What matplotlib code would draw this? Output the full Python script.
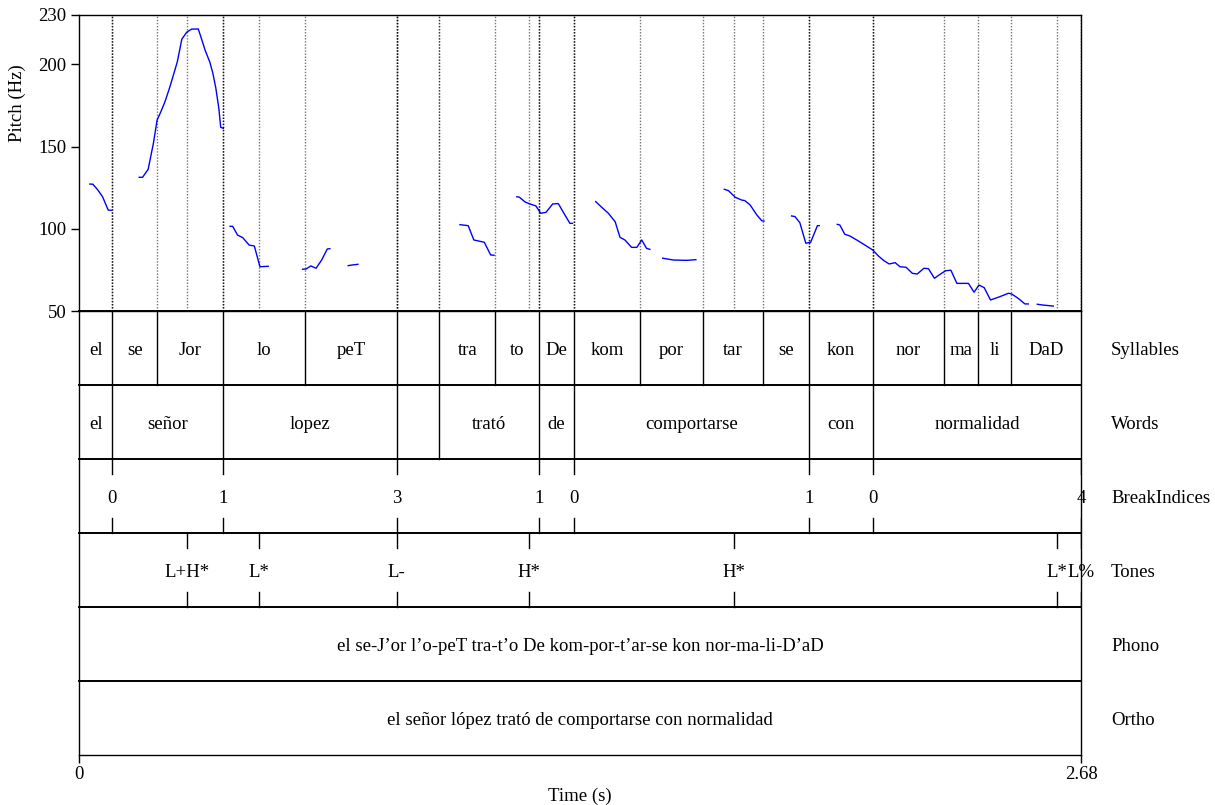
import matplotlib.pyplot as plt

plt.rcParams["font.family"] = ["Liberation Serif", "DejaVu Serif"]
FS = 13.5

duration = 2.68

# Interval tiers: boundaries (s) between consecutive labels
syll_bounds = [0.0891, 0.2086, 0.3860, 0.6045, 0.8497, 0.9637, 1.1135, 1.2295,
               1.3248, 1.5016, 1.6677, 1.8300, 1.9525, 2.1234, 2.3133, 2.4032, 2.4939]
syll_labels = ["el", "se", "Jor", "lo", "peT", "", "tra", "to", "De", "kom", "por",
               "tar", "se", "kon", "nor", "ma", "li", "DaD"]

word_bounds = [0.0891, 0.3860, 0.8497, 0.9637, 1.2295, 1.3248, 1.9525, 2.1234]
word_labels = ["el", "señor", "lopez", "", "trató", "de", "comportarse", "con", "normalidad"]

# Point tiers
break_times = [0.0891, 0.3860, 0.8497, 1.2295, 1.3248, 1.9525, 2.1234, 2.68]
break_labels = ["0", "1", "3", "1", "0", "1", "0", "4"]

tone_times = [0.2889, 0.4823, 0.8497, 1.2027, 1.7527, 2.6162, 2.68]
tone_labels = ["L+H*", "L*", "L-", "H*", "H*", "L*", "L%"]

phono_text = "el se-J’or l’o-peT tra-t’o De kom-por-t’ar-se kon nor-ma-li-D’aD"
ortho_text = "el señor lópez trató de comportarse con normalidad"

tier_names = ["Syllables", "Words", "BreakIndices", "Tones", "Phono", "Ortho"]

# Voiced stretches of the pitch track: (time s, F0 Hz)
pitch_segments = [
    ([0.029, 0.037, 0.049, 0.063, 0.078, 0.086],
     [127.2, 127.1, 124.0, 119.5, 111.4, 111.2]),
    ([0.161, 0.170, 0.185, 0.199, 0.209, 0.219, 0.230, 0.242, 0.254, 0.263, 0.275,
      0.288, 0.301, 0.319, 0.328, 0.337, 0.350, 0.358, 0.366, 0.374, 0.379, 0.386],
     [131.3, 131.3, 136.2, 152.0, 166.2, 171.2, 177.3, 185.5, 194.6, 201.6, 215.3,
      219.5, 221.4, 221.5, 215.3, 208.8, 201.3, 194.6, 185.5, 173.3, 161.7, 161.1]),
    ([0.404, 0.411, 0.424, 0.438, 0.455, 0.469, 0.484, 0.506],
     [101.5, 101.5, 96.2, 94.6, 90.1, 89.5, 76.9, 77.2]),
    ([0.598, 0.607, 0.620, 0.634, 0.649, 0.664, 0.671],
     [75.4, 75.5, 77.4, 76.0, 81.0, 87.7, 87.9]),
    ([0.720, 0.732, 0.746],
     [77.6, 78.0, 78.4]),
    ([1.019, 1.041, 1.056, 1.084, 1.101, 1.110],
     [102.5, 101.9, 93.2, 91.8, 84.1, 83.9]),
    ([1.171, 1.178, 1.193, 1.206, 1.222, 1.235, 1.249, 1.267, 1.282, 1.297, 1.313, 1.320],
     [119.5, 119.2, 116.3, 115.1, 113.9, 109.4, 110.0, 115.1, 115.3, 109.4, 103.3, 103.3]),
    ([1.382, 1.398, 1.416, 1.434, 1.447, 1.460, 1.478, 1.492, 1.505, 1.518, 1.527],
     [116.5, 113.1, 109.4, 104.3, 94.8, 93.2, 88.7, 88.7, 93.2, 88.1, 87.5]),
    ([1.561, 1.590, 1.625, 1.650],
     [82.1, 81.0, 80.8, 81.2]),
    ([1.726, 1.737, 1.755, 1.772, 1.781, 1.795, 1.813, 1.826, 1.832],
     [124.0, 123.2, 119.2, 117.5, 117.1, 114.5, 108.4, 104.9, 104.7]),
    ([1.906, 1.915, 1.928, 1.944, 1.957, 1.975, 1.980],
     [107.8, 107.4, 103.7, 91.2, 91.8, 101.9, 101.9]),
    ([2.028, 2.035, 2.048, 2.062, 2.080, 2.102, 2.123, 2.138, 2.153, 2.167, 2.183,
      2.196, 2.212, 2.229, 2.242, 2.260, 2.272, 2.288, 2.303, 2.318, 2.332, 2.348,
      2.379, 2.394, 2.407, 2.421, 2.438, 2.463, 2.486, 2.495, 2.512, 2.530, 2.539],
     [102.7, 102.3, 96.7, 95.6, 93.2, 90.1, 87.1, 83.5, 80.6, 78.6, 79.4,
      76.9, 76.6, 72.9, 72.5, 76.0, 75.7, 69.9, 72.3, 74.5, 74.8, 66.8,
      66.8, 61.4, 65.8, 64.2, 56.7, 58.7, 60.8, 60.3, 57.7, 54.3, 54.3]),
    ([2.563, 2.579, 2.606],
     [54.1, 53.6, 53.0]),
]

W, H = 1215, 805
fig = plt.figure(figsize=(W / 100, H / 100), dpi=100)

left, right = 79, 1081
pitch_top, pitch_bot, grid_bot = 15, 311, 755


def box(x0, y0, x1, y1):
    return [x0 / W, 1 - y1 / H, (x1 - x0) / W, (y1 - y0) / H]


ax_p = fig.add_axes(box(left, pitch_top, right, pitch_bot))
ax_t = fig.add_axes(box(left, pitch_bot, right, grid_bot))
ax_t.patch.set_visible(False)

# --- pitch panel
for t, hz in pitch_segments:
    ax_p.plot(t, hz, color="#0000ff", lw=1.0)

marks = syll_bounds + word_bounds + break_times + tone_times
for t in marks:
    ax_p.axvline(t, color="black", alpha=0.55, lw=1.0, ls=(0, (1, 1.2)))

ax_p.set_xlim(0, duration)
ax_p.set_ylim(50, 230)
ax_p.set_xticks([])
ax_p.set_yticks([50, 100, 150, 200, 230])
ax_p.tick_params(axis="y", direction="out", length=6, width=1, labelsize=FS, pad=3)
for s in ax_p.spines.values():
    s.set_linewidth(1.0)

# --- tiers
n = len(tier_names)
ax_t.set_xlim(0, duration)
ax_t.set_ylim(0, n)
ax_t.spines["top"].set_visible(False)
for s in ("left", "right", "bottom"):
    ax_t.spines[s].set_linewidth(1.0)
for k in range(1, n + 1):
    ax_t.axhline(k, color="black", lw=1.4, clip_on=False)

text_dy = -0.04  # nudge labels a little below the row centre


def interval_tier(row, bounds, labels):
    y0, y1 = n - row - 1, n - row
    for b in bounds:
        ax_t.plot([b, b], [y0, y1], color="black", lw=1.0)
    edges = [0.0] + bounds + [duration]
    for a, b, lab in zip(edges[:-1], edges[1:], labels):
        ax_t.text((a + b) / 2, (y0 + y1) / 2 + text_dy, lab, ha="center", va="center",
                  fontsize=FS)


def point_tier(row, times, labels):
    y0, y1 = n - row - 1, n - row
    tick = 0.2
    for t, lab in zip(times, labels):
        ax_t.plot([t, t], [y1 - tick, y1], color="black", lw=1.0)
        ax_t.plot([t, t], [y0, y0 + tick], color="black", lw=1.0)
        ax_t.text(t, (y0 + y1) / 2 + text_dy, lab, ha="center", va="center", fontsize=FS)


interval_tier(0, syll_bounds, syll_labels)
interval_tier(1, word_bounds, word_labels)
point_tier(2, break_times, break_labels)
point_tier(3, tone_times, tone_labels)
interval_tier(4, [], [phono_text])
interval_tier(5, [], [ortho_text])

for i, name in enumerate(tier_names):
    ax_t.text(1.03, (n - i - 0.5 + text_dy) / n, name, transform=ax_t.transAxes,
              ha="left", va="center", fontsize=FS)

ax_t.set_yticks([])
ax_t.set_xticks([0, duration])
ax_t.set_xticklabels(["0", "2.68"])
ax_t.tick_params(axis="x", direction="out", length=6, width=1, labelsize=FS, pad=2)
ax_t.set_xlabel("Time (s)", fontsize=FS, labelpad=3)

fig.text(17 / W, 1 - 103 / H, "Pitch (Hz)", rotation=90, ha="center", va="center",
         fontsize=FS)

fig.savefig("out.png", dpi=100)
